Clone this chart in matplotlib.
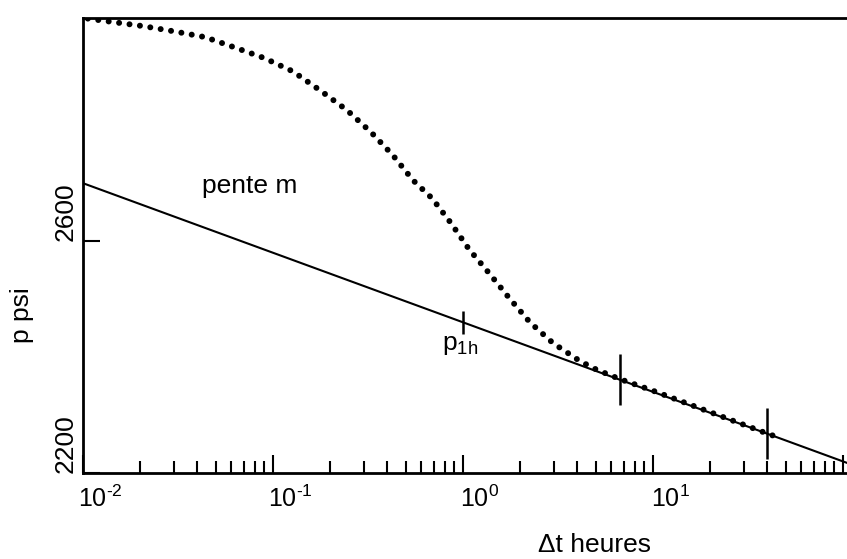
import numpy as np
import matplotlib
matplotlib.use('Agg')
import matplotlib.pyplot as plt
from matplotlib.transforms import ScaledTranslation

# pressure build-up curve (hours, psi)
curve_t = [0.0106, 0.0144, 0.0207, 0.0301, 0.0439, 0.0631, 0.0897, 0.127,
           0.179, 0.245, 0.328, 0.428, 0.546, 0.687, 0.865, 1.076, 1.37,
           1.75, 2.25, 2.98, 4.13, 5.07, 6.7, 10, 20, 40, 47]
curve_p = [2984, 2978, 2971, 2962, 2952, 2934, 2916, 2893, 2859, 2826, 2788,
           2748, 2705, 2674, 2631, 2586, 2545, 2502, 2460, 2424, 2393, 2378,
           2362, 2342, 2305, 2268, 2260]

# semi-log straight line: p = p1h - m*log10(dt)
p1h = 2460
m = 120

# small vertical marks along the straight line
mark_t = [1, 6.7, 40]
mark_half = [20, 44, 44]

xticks = [1e-2, 1e-1, 1, 10, 100]
xticklabels = [r'10$^{\text{-}2}$', r'10$^{\text{-}1}$', '10$^{0}$', '10$^{1}$', '']
yticks = [2200, 2600]

plt.rcParams['font.family'] = 'Liberation Sans'
plt.rcParams['mathtext.fontset'] = 'custom'
plt.rcParams['mathtext.rm'] = 'Liberation Sans'
plt.rcParams['mathtext.default'] = 'regular'

fig = plt.figure(figsize=(8.47, 5.59), dpi=100)
ax = fig.add_axes([0.098, 0.1538, 0.902, 0.814])

xmin, xmax = 1e-2, 10 ** 2.021
ax.set_xscale('log')
ax.set_xlim(xmin, xmax)
ax.set_ylim(2200, 2985)

# straight line
lt = np.array([xmin, xmax])
ax.plot(lt, p1h - m * np.log10(lt), color='black', lw=1.5)

# dotted measured curve
ax.plot(curve_t, curve_p, color='black', lw=4.3,
        linestyle=(0, (0.01, 1.75)), dash_capstyle='round')

# marks
for t, h in zip(mark_t, mark_half):
    pc = p1h - m * np.log10(t)
    ax.vlines(t, pc - h, pc + h, color='black', lw=1.8)

ax.text(0.0423, 2683, 'pente m', fontsize=19)
ax.text(0.774, 2412, 'p$_{1h}$', fontsize=19)

ax.set_xticks(xticks)
ax.set_xticklabels(xticklabels)
ax.xaxis.set_minor_formatter(matplotlib.ticker.NullFormatter())
ax.set_yticks(yticks)
ax.set_yticklabels([str(v) for v in yticks])

ax.tick_params(axis='x', which='major', direction='in', length=13, width=1.5,
               labelsize=18, pad=9)
ax.tick_params(axis='x', which='minor', direction='in', length=9, width=1.5)
ax.tick_params(axis='y', which='major', direction='in', length=12, width=1.5,
               labelsize=19, pad=4)

shift_x = ScaledTranslation(17 / 100, 0, fig.dpi_scale_trans)
for lab in ax.get_xticklabels():
    lab.set_transform(lab.get_transform() + shift_x)
for lab in ax.get_yticklabels():
    lab.set_rotation(90)
    lab.set_verticalalignment('bottom')

ax.set_ylabel('p psi', fontsize=19)
ax.yaxis.set_label_coords(-0.08, 0.346)
ax.yaxis.label.set_verticalalignment('center')
ax.set_xlabel('\u0394t heures', fontsize=19)
ax.xaxis.set_label_coords(0.669, -0.158)
ax.xaxis.label.set_verticalalignment('center')

ax.spines['right'].set_visible(False)
for s in ['left', 'bottom', 'top']:
    ax.spines[s].set_linewidth(2)

fig.savefig('out.png', dpi=100)
